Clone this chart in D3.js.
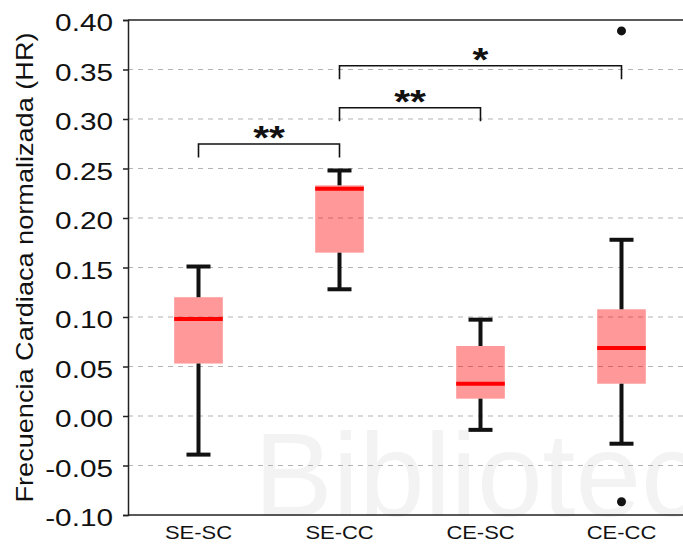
<!DOCTYPE html>
<html>
<head>
<meta charset="utf-8">
<script src="https://cdn.jsdelivr.net/npm/d3@7"></script>
<style>
  body { margin: 0; background: #fff; }
  text { font-family: "Liberation Sans", Arial, sans-serif; }
</style>
</head>
<body>
<svg id="chart" width="683" height="547"></svg>
<script>
// data
var categories = ["SE-SC", "SE-CC", "CE-SC", "CE-CC"]
var whiskerLow = [-0.039, 0.128, -0.014, -0.028]
var q1 = [0.053, 0.165, 0.0175, 0.0326]
var median = [0.098, 0.2296, 0.0326, 0.0687]
var q3 = [0.120, 0.233, 0.0707, 0.1078]
var whiskerHigh = [0.151, 0.248, 0.0973, 0.178]
var outlierCat = ["CE-CC", "CE-CC"]
var outlierVal = [0.389, -0.0866]
var yTicks = [-0.10, -0.05, 0.00, 0.05, 0.10, 0.15, 0.20, 0.25, 0.30, 0.35, 0.40]
var bracketFrom = ["SE-SC", "SE-CC", "SE-CC"]
var bracketTo = ["SE-CC", "CE-SC", "CE-CC"]
var bracketY = [0.2747, 0.3114, 0.3538]
var bracketLabel = ["**", "**", "*"]
var legDrop = 0.0137

var svg = d3.select("#chart")

// note: "top" is taken by window.top, so use plot* names
var plotLeft = 128, plotTop = 20, plotBottom = 515, plotRight = 692

var x = d3.scaleBand()
          .domain(categories)
          .range([plotLeft, plotRight])
          .padding(0)

var y = d3.scaleLinear()
          .domain([-0.10, 0.40])
          .range([plotBottom, plotTop])

var cx = function(c) { return x(c) + x.bandwidth() / 2 }

// faint watermark in the background, clipped to the page
svg.append("clipPath")
   .attr("id", "pageclip")
 .append("rect")
   .attr("width", 683)
   .attr("height", 547)

svg.append("g")
   .attr("clip-path", "url(#pageclip)")
 .append("text")
   .attr("x", 254)
   .attr("y", 516)
   .attr("font-size", 118)
   .attr("fill", "#f3f3f3")
   .text("Biblioteca")

// dashed grid
svg.append("g")
   .selectAll("line")
     .data(yTicks.filter(function(d) { return d > -0.1 && d < 0.4 }))
   .enter().append("line")
     .attr("x1", plotLeft)
     .attr("x2", 683)
     .attr("y1", function(d) { return y(d) })
     .attr("y2", function(d) { return y(d) })
     .attr("stroke", "#b3b3b3")
     .attr("stroke-width", 1.2)
     .attr("stroke-dasharray", "5,5")

// frame lines top / bottom
svg.append("line")
   .attr("x1", plotLeft).attr("x2", 683)
   .attr("y1", y(0.40)).attr("y2", y(0.40))
   .attr("stroke", "#222").attr("stroke-width", 1.5)
svg.append("line")
   .attr("x1", plotLeft).attr("x2", 683)
   .attr("y1", y(-0.10)).attr("y2", y(-0.10))
   .attr("stroke", "#222").attr("stroke-width", 1.5)

// y axis
var yAxis = svg.append("g")
               .attr("transform", "translate(" + plotLeft + ",0)")
               .call(d3.axisLeft(y)
                       .tickValues(yTicks)
                       .tickSize(5)
                       .tickFormat(function(d) { return d3.format(".2f")(d).replace("\u2212", "-") }))

yAxis.select(".domain").attr("stroke", "#222").attr("stroke-width", 1.5)
yAxis.selectAll(".tick line").attr("stroke", "#222").attr("stroke-width", 1.5)
yAxis.selectAll(".tick text")
     .attr("x", 0)
     .attr("dy", null)
     .attr("fill", "#111")
     .attr("font-size", 24)
     .attr("font-family", "Liberation Sans, Arial, sans-serif")
     .attr("text-anchor", "end")
     .attr("transform", "translate(-15,10.5) scale(1.24,1)")

// y title
svg.append("text")
   .attr("transform", "translate(33," + ((plotTop + plotBottom) / 2) + ") rotate(-90) scale(1.13,1)")
   .attr("text-anchor", "middle")
   .attr("font-size", 24)
   .attr("fill", "#111")
   .text("Frecuencia Cardiaca normalizada (HR)")

// x labels
svg.append("g")
   .selectAll("text")
     .data(categories)
   .enter().append("text")
     .attr("transform", function(d) {
         return "translate(" + cx(d) + ",539) scale(1.18,1)"
     })
     .attr("text-anchor", "middle")
     .attr("font-size", 18.6)
     .attr("fill", "#111")
     .text(function(d) { return d })

// boxes
var boxW = x.bandwidth() * 0.345
var capW = 24

var box = svg.append("g")
             .selectAll("g")
               .data(categories)
             .enter().append("g")

box.append("rect")
   .attr("x", function(d) { return cx(d) - boxW / 2 })
   .attr("y", function(d, i) { return y(q3[i]) })
   .attr("width", boxW)
   .attr("height", function(d, i) { return y(q1[i]) - y(q3[i]) })
   .attr("fill", "red")
   .attr("fill-opacity", 0.4)

// whiskers
box.append("line")
   .attr("x1", cx).attr("x2", cx)
   .attr("y1", function(d, i) { return y(whiskerHigh[i]) })
   .attr("y2", function(d, i) { return y(q3[i]) })
   .attr("stroke", "#111").attr("stroke-width", 4)
box.append("line")
   .attr("x1", cx).attr("x2", cx)
   .attr("y1", function(d, i) { return y(q1[i]) })
   .attr("y2", function(d, i) { return y(whiskerLow[i]) })
   .attr("stroke", "#111").attr("stroke-width", 4)
box.append("line")
   .attr("x1", function(d) { return cx(d) - capW / 2 })
   .attr("x2", function(d) { return cx(d) + capW / 2 })
   .attr("y1", function(d, i) { return y(whiskerHigh[i]) })
   .attr("y2", function(d, i) { return y(whiskerHigh[i]) })
   .attr("stroke", "#111").attr("stroke-width", 4)
box.append("line")
   .attr("x1", function(d) { return cx(d) - capW / 2 })
   .attr("x2", function(d) { return cx(d) + capW / 2 })
   .attr("y1", function(d, i) { return y(whiskerLow[i]) })
   .attr("y2", function(d, i) { return y(whiskerLow[i]) })
   .attr("stroke", "#111").attr("stroke-width", 4)

// median
box.append("line")
   .attr("x1", function(d) { return cx(d) - boxW / 2 })
   .attr("x2", function(d) { return cx(d) + boxW / 2 })
   .attr("y1", function(d, i) { return y(median[i]) })
   .attr("y2", function(d, i) { return y(median[i]) })
   .attr("stroke", "red").attr("stroke-width", 4)

// outliers
svg.append("g")
   .selectAll("circle")
     .data(outlierVal)
   .enter().append("circle")
     .attr("cx", function(d, i) { return cx(outlierCat[i]) })
     .attr("cy", function(d) { return y(d) })
     .attr("r", 4.5)
     .attr("fill", "#111")

// significance brackets
var br = svg.append("g")
            .selectAll("g")
              .data(bracketY)
            .enter().append("g")

br.append("path")
  .attr("d", function(d, i) {
      var x1 = cx(bracketFrom[i]), x2 = cx(bracketTo[i])
      return "M" + x1 + "," + y(d - legDrop) + "V" + y(d) + "H" + x2 + "V" + y(d - legDrop)
  })
  .attr("fill", "none")
  .attr("stroke", "#111")
  .attr("stroke-width", 1.6)

br.append("text")
  .attr("transform", function(d, i) {
      var mx = (cx(bracketFrom[i]) + cx(bracketTo[i])) / 2
      return "translate(" + mx + "," + (y(d) + 5) + ") scale(1.2,1)"
  })
  .attr("text-anchor", "middle")
  .attr("font-size", 34)
  .attr("font-weight", "bold")
  .attr("fill", "#111")
  .text(function(d, i) { return bracketLabel[i] })
</script>
</body>
</html>
